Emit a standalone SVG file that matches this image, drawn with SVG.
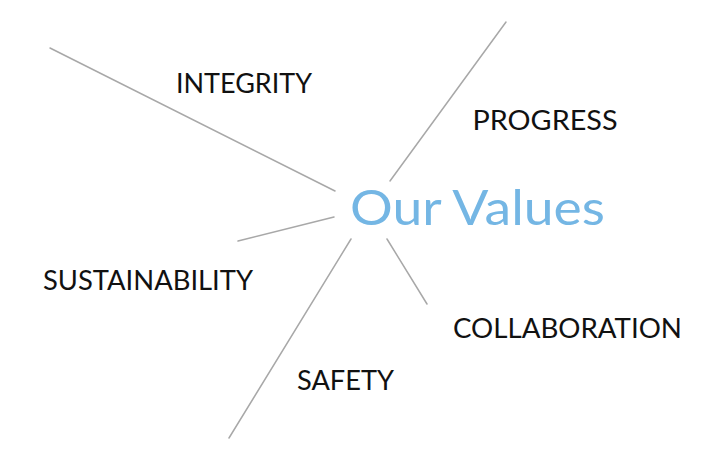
<svg xmlns="http://www.w3.org/2000/svg" width="720" height="465" viewBox="0 0 720 465">
<style>
.c line{stroke:#a8a8a8;stroke-width:1.5;stroke-linecap:round}
.lbl{font-family:Lato,"Noto Sans","Liberation Sans",sans-serif;font-size:27px;fill:#111}
.title{font-family:Lato,"Noto Sans","Liberation Sans",sans-serif;font-size:48px;fill:#74b6e4}
</style>
<rect width="720" height="465" fill="#fff"/>
<g id="connectors" class="c">
<line x1="50" y1="48" x2="335" y2="191"/>
<line x1="506" y1="22" x2="390" y2="181"/>
<line x1="238" y1="241" x2="334" y2="217"/>
<line x1="387" y1="239" x2="427" y2="304"/>
<line x1="351" y1="239" x2="229" y2="438"/>
</g>
<g id="center"><text class="title" x="350" y="225" textLength="255" lengthAdjust="spacingAndGlyphs">Our Values</text></g>
<g id="integrity"><text class="lbl" x="176" y="92.5" textLength="136" lengthAdjust="spacingAndGlyphs">INTEGRITY</text></g>
<g id="progress"><text class="lbl" x="472.5" y="129.5" textLength="145" lengthAdjust="spacingAndGlyphs">PROGRESS</text></g>
<g id="sustainability"><text class="lbl" x="43" y="290" textLength="210" lengthAdjust="spacingAndGlyphs">SUSTAINABILITY</text></g>
<g id="collaboration"><text class="lbl" x="453" y="337.5" textLength="229" lengthAdjust="spacingAndGlyphs">COLLABORATION</text></g>
<g id="safety"><text class="lbl" x="297" y="390" textLength="97" lengthAdjust="spacingAndGlyphs">SAFETY</text></g>
</svg>
